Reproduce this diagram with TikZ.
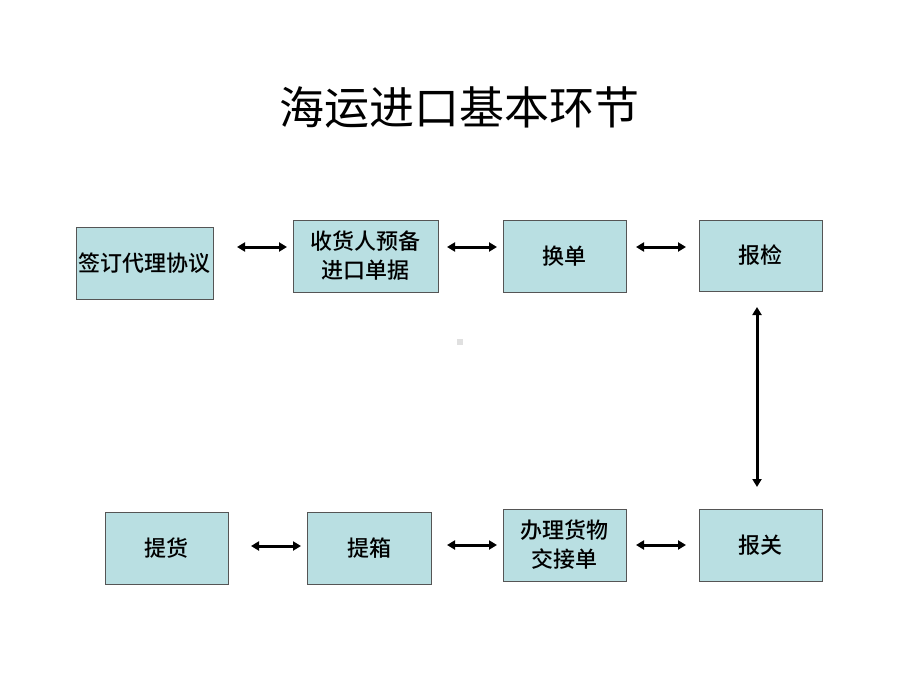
\documentclass[tikz,border=0pt]{standalone}
\usepackage{fontspec}
\newfontfamily\cjk{Noto Sans CJK SC}
\newfontfamily\cjkm{Noto Sans CJK SC Medium}
\usetikzlibrary{arrows.meta}
\definecolor{boxfill}{HTML}{B9DFE2}
\definecolor{boxline}{HTML}{555555}
\tikzset{
  stepbox/.style={draw=boxline, line width=0.9pt, fill=boxfill, inner sep=0pt,
    align=center, font=\cjkm\fontsize{22}{29}\selectfont},
  tip/.tip={Triangle[length=8pt,width=9pt]},
  link/.style={draw=black, line width=3pt, tip-tip},
}
\begin{document}
\begin{tikzpicture}[x=1pt,y=-1pt]
\useasboundingbox (0,0) rectangle (920,690);
\fill[white] (0,0) rectangle (920,690);
\node[font=\cjk\fontsize{45}{48}\selectfont] (title) at (459,107) {海运进口基本环节};
\node[stepbox, minimum width=137pt, minimum height=72pt] (a) at (144.5,263) {签订代理协议};
\node[stepbox, minimum width=145pt, minimum height=72pt] (b) at (365.5,256) {收货人预备\\进口单据};
\node[stepbox, minimum width=123pt, minimum height=72pt] (c) at (564.5,256) {换单};
\node[stepbox, minimum width=123pt, minimum height=71pt] (d) at (760.5,255.5) {报检};
\node[stepbox, minimum width=123pt, minimum height=72pt] (e) at (760.5,545) {报关};
\node[stepbox, minimum width=123pt, minimum height=72pt] (f) at (564.5,545) {办理货物\\交接单};
\node[stepbox, minimum width=124pt, minimum height=72pt] (g) at (369,548) {提箱};
\node[stepbox, minimum width=123pt, minimum height=72pt] (h) at (166.5,548) {提货};
\node[fill=black!12, minimum size=6pt, inner sep=0pt] (dot) at (460,342) {};
\coordinate (ab1) at (237,247); \coordinate (ab2) at (287,247);
\coordinate (bc1) at (447,247); \coordinate (bc2) at (497,247);
\coordinate (cd1) at (636,247); \coordinate (cd2) at (686,247);
\coordinate (de1) at (757,307); \coordinate (de2) at (757,487);
\coordinate (ef1) at (686,545); \coordinate (ef2) at (636,545);
\coordinate (fg1) at (497,545); \coordinate (fg2) at (447,545);
\coordinate (gh1) at (301,546); \coordinate (gh2) at (251,546);
\draw[link] (ab1) -- (ab2);
\draw[link] (bc1) -- (bc2);
\draw[link] (cd1) -- (cd2);
\draw[link] (de1) -- (de2);
\draw[link] (ef1) -- (ef2);
\draw[link] (fg1) -- (fg2);
\draw[link] (gh1) -- (gh2);
\end{tikzpicture}
\end{document}
